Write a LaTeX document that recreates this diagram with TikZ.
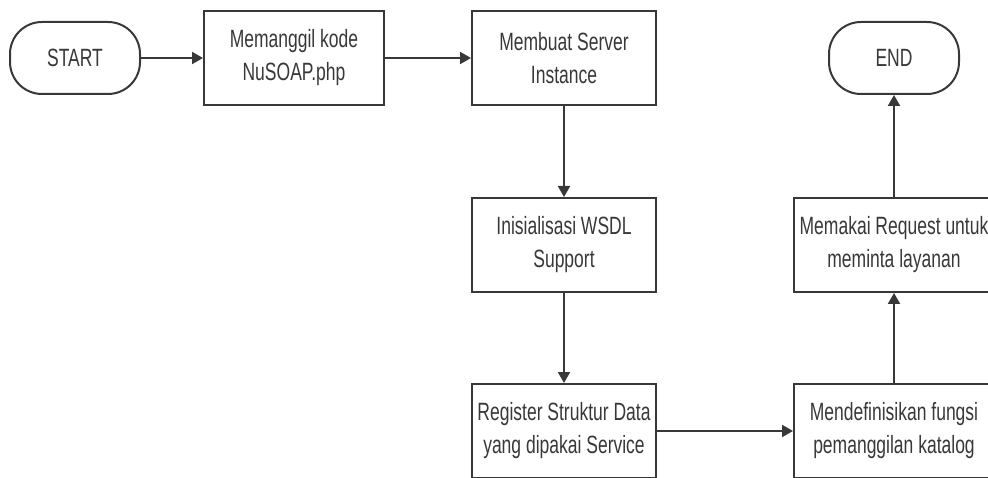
\documentclass[tikz,border=0pt]{standalone}
\usepackage{fontspec}
\setmainfont[FakeStretch=0.70]{Liberation Sans}
\usetikzlibrary{arrows.meta,positioning}

\definecolor{inkgray}{HTML}{383838}

\begin{document}
\begin{tikzpicture}[
    x=1pt,
    y=-1pt,
    >={Triangle[length=11pt,width=12pt]},
    flow/.style={
        ->,
        line width=2pt,
        draw=inkgray
    },
    stepbox/.style={
        draw=inkgray,
        line width=2pt,
        rectangle,
        minimum width=184pt,
        minimum height=94pt,
        inner sep=0pt,
        align=center,
        text=inkgray,
        font=\fontsize{25}{33}\selectfont
    },
    terminal/.style={
        draw=inkgray,
        line width=2pt,
        rectangle,
        rounded corners=32pt,
        minimum width=130pt,
        minimum height=72pt,
        inner sep=0pt,
        text=inkgray,
        font=\fontsize{25}{33}\selectfont
    }
]

\useasboundingbox (0,0) rectangle (988,478);

% ============================================================
% Top row
% ============================================================

\node[terminal] (start) at (75,58) {START};

\node[stepbox, minimum width=180pt] (nusoap) at (294,58)
    {Memanggil kode\\NuSOAP.php};

\node[stepbox] (server) at (564,58)
    {Membuat Server\\Instance};

\node[terminal] (end) at (894,58) {END};

% ============================================================
% Middle and bottom rows
% ============================================================

\node[stepbox] (wsdl) at (564,245)
    {Inisialisasi WSDL\\Support};

\node[stepbox] (register) at (564,431)
    {Register Struktur Data\\yang dipakai Service};

\node[stepbox, minimum width=200pt] (katalog) at (894,431)
    {Mendefinisikan fungsi\\pemanggilan katalog};

\node[stepbox, minimum width=200pt] (request) at (894,245)
    {Memakai Request untuk\\meminta layanan};

% ------------------------------------------------------------
% Connectors
% ------------------------------------------------------------
\draw[flow] (start)    -- (nusoap);
\draw[flow] (nusoap)   -- (server);
\draw[flow] (server)   -- (wsdl);
\draw[flow] (wsdl)     -- (register);
\draw[flow] (register) -- (katalog);
\draw[flow] (katalog)  -- (request);
\draw[flow] (request)  -- (end);

\end{tikzpicture}
\end{document}
